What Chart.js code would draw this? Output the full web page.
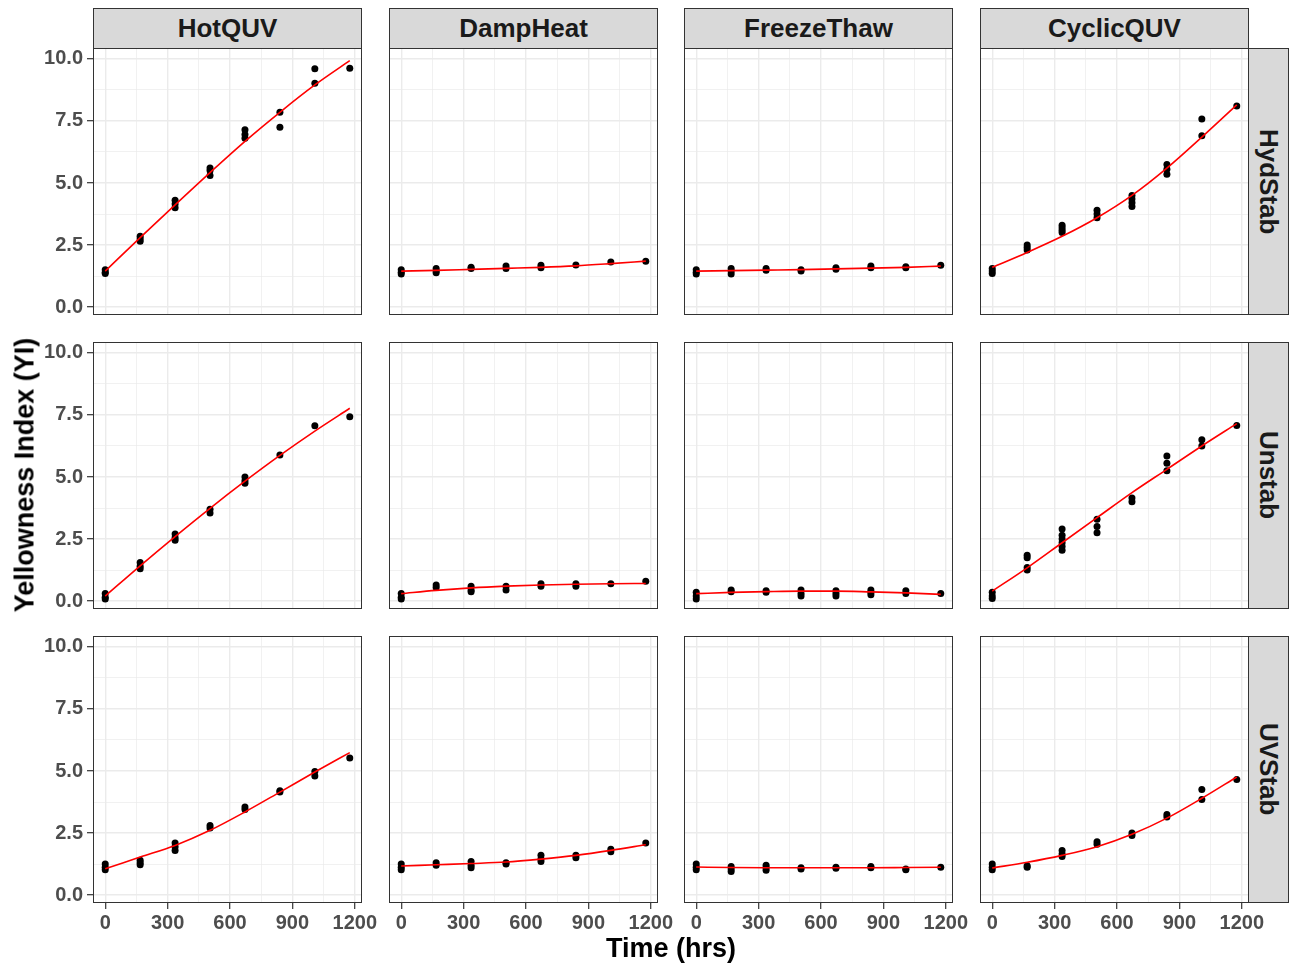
<!DOCTYPE html>
<html>
<head>
<meta charset="utf-8">
<script src="https://cdn.jsdelivr.net/npm/chart.js@4.4.1/dist/chart.umd.min.js"></script>
<style>
  body { margin: 0; background: #fff; }
  #wrap { position: relative; width: 1293px; height: 964px; overflow: hidden; font-family: 'Liberation Sans', Arial, sans-serif; }
  canvas { position: absolute; }
  .strip { position: absolute; box-sizing: border-box; background: #D9D9D9; border: 1px solid #333;
           display: flex; align-items: center; justify-content: center;
           font-weight: bold; font-size: 26px; color: #1A1A1A; }
  .strip.side { writing-mode: vertical-rl; }
  .title { position: absolute; font-weight: bold; font-size: 27px; color: #000; white-space: nowrap; }
</style>
</head>
<body>
<div id="wrap"></div>
<script>
// time points (hrs)
const hours = [0, 168, 336, 504, 672, 840, 1008, 1176];
const tests = ['HotQUV', 'DampHeat', 'FreezeThaw', 'CyclicQUV'];
const stabs = ['HydStab', 'Unstab', 'UVStab'];
const xTickVals = [0, 150, 300, 450, 600, 750, 900, 1050, 1200];
const yTickVals = [0, 1.25, 2.5, 3.75, 5, 6.25, 7.5, 8.75, 10];

// HydStab: replicates per time point, then smooth fit
const hydHotQUV = [[1.5,1.4,1.35],[2.85,2.75,2.65],[4.3,4.15,4.0],[5.6,5.5,5.3],[7.15,6.95,6.8],[7.85,7.25],[9.6,9.02],[9.62]];
const hydHotQUVFit = [1.45,2.8,4.12,5.42,6.68,7.85,8.95,9.93];
const hydDampHeat = [[1.5,1.4,1.33],[1.55,1.45,1.38],[1.6,1.55],[1.65,1.55],[1.68,1.58],[1.7],[1.82],[1.85]];
const hydDampHeatFit = [1.45,1.48,1.52,1.56,1.6,1.66,1.75,1.85];
const hydFreezeThaw = [[1.5,1.4,1.33],[1.55,1.45,1.33],[1.55,1.48],[1.5,1.45],[1.58,1.52],[1.65,1.58],[1.62,1.58],[1.68]];
const hydFreezeThawFit = [1.45,1.47,1.49,1.51,1.54,1.57,1.6,1.65];
const hydCyclicQUV = [[1.55,1.45,1.35],[2.5,2.4,2.3],[3.3,3.2,3.1,3.0],[3.9,3.75,3.6],[4.5,4.35,4.2,4.05],[5.75,5.55,5.35],[7.58,6.9],[8.1]];
const hydCyclicQUVFit = [1.6,2.2,2.85,3.6,4.5,5.6,6.85,8.15];

// Unstab
const unHotQUV = [[0.3,0.15,0.08],[1.55,1.4,1.3],[2.7,2.55,2.45],[3.7,3.55],[5.0,4.85,4.75],[5.89],[7.06],[7.43]];
const unHotQUVFit = [0.2,1.42,2.6,3.74,4.83,5.87,6.85,7.77];
const unDampHeat = [[0.3,0.15,0.08],[0.65,0.55],[0.6,0.45,0.38],[0.6,0.45],[0.7,0.6],[0.7,0.6],[0.7],[0.8]];
const unDampHeatFit = [0.3,0.43,0.53,0.6,0.65,0.68,0.7,0.71];
const unFreezeThaw = [[0.35,0.2,0.08],[0.45,0.38],[0.42,0.35],[0.45,0.3,0.2],[0.42,0.3,0.2],[0.45,0.35,0.25],[0.42,0.3],[0.3]];
const unFreezeThawFit = [0.3,0.35,0.38,0.4,0.4,0.37,0.33,0.27];
const unCyclicQUV = [[0.35,0.2,0.1],[1.85,1.75,1.35,1.25],[2.9,2.65,2.5,2.35,2.2,2.05],[3.3,3.0,2.75],[4.15,4.0],[5.85,5.55,5.25],[6.5,6.25],[7.08]];
const unCyclicQUVFit = [0.4,1.34,2.35,3.36,4.37,5.31,6.25,7.15];

// UVStab
const uvHotQUV = [[1.25,1.12,1.02],[1.4,1.3,1.22],[2.1,1.95,1.8],[2.8,2.7],[3.55,3.45],[4.2,4.15],[4.98,4.8],[5.52]];
const uvHotQUVFit = [1.06,1.53,2.0,2.61,3.35,4.15,4.96,5.74];
const uvDampHeat = [[1.25,1.12,1.02],[1.3,1.2],[1.35,1.2,1.1],[1.3,1.25],[1.6,1.45,1.35],[1.6,1.5],[1.85,1.75],[2.1]];
const uvDampHeatFit = [1.17,1.22,1.27,1.33,1.45,1.6,1.8,2.03];
const uvFreezeThaw = [[1.25,1.12,1.02],[1.15,1.05,0.95],[1.2,1.1,1.0],[1.1,1.05],[1.12,1.08],[1.15,1.1],[1.05,1.02],[1.12]];
const uvFreezeThawFit = [1.13,1.11,1.1,1.1,1.1,1.1,1.11,1.12];
const uvCyclicQUV = [[1.25,1.12,1.02],[1.18,1.12],[1.8,1.65,1.55],[2.15,2.05],[2.5,2.4],[3.25,3.15],[4.25,3.85],[4.66]];
const uvCyclicQUVFit = [1.09,1.32,1.6,1.95,2.45,3.1,3.9,4.76];

const panels = [
  [[hydHotQUV, hydHotQUVFit], [hydDampHeat, hydDampHeatFit], [hydFreezeThaw, hydFreezeThawFit], [hydCyclicQUV, hydCyclicQUVFit]],
  [[unHotQUV, unHotQUVFit], [unDampHeat, unDampHeatFit], [unFreezeThaw, unFreezeThawFit], [unCyclicQUV, unCyclicQUVFit]],
  [[uvHotQUV, uvHotQUVFit], [uvDampHeat, uvDampHeatFit], [uvFreezeThaw, uvFreezeThawFit], [uvCyclicQUV, uvCyclicQUVFit]]
];

// layout
const panelLeft = [93, 389, 684, 980];
const panelTop = [48, 342, 636];
const panelW = 269, panelH = 267;
const padL = 60, padR = 30, padB = 40;

Chart.defaults.font.family = "'Liberation Sans', Arial, sans-serif";

const frame = {
  id: 'frame',
  afterDatasetsDraw(chart) {
    const a = chart.chartArea, ctx = chart.ctx;
    ctx.save();
    ctx.strokeStyle = '#333333';
    ctx.lineWidth = 1;
    ctx.strokeRect(a.left + 0.5, a.top + 0.5, a.right - a.left - 1, a.bottom - a.top - 1);
    ctx.restore();
  }
};

const wrap = document.getElementById('wrap');

function addDiv(cls, text, css) {
  const d = document.createElement('div');
  d.className = cls;
  d.textContent = text;
  Object.assign(d.style, css);
  wrap.appendChild(d);
}

tests.forEach((t, c) => addDiv('strip', t, { left: panelLeft[c] + 'px', top: '8px', width: panelW + 'px', height: '41px' }));
stabs.forEach((s, r) => addDiv('strip side', s, { left: '1248px', top: panelTop[r] + 'px', width: '41px', height: panelH + 'px' }));

function makePanel(r, c) {
  const [reps, fit] = panels[r][c];
  const showX = r === 2, showY = c === 0;
  const cv = document.createElement('canvas');
  const w = padL + panelW + padR, h = panelH + padB;
  cv.width = w; cv.height = h;
  cv.style.width = w + 'px'; cv.style.height = h + 'px';
  cv.style.left = (panelLeft[c] - padL) + 'px';
  cv.style.top = panelTop[r] + 'px';
  wrap.appendChild(cv);

  const pts = hours.flatMap((hr, i) => reps[i].map(v => ({ x: hr, y: v })));
  const line = hours.map((hr, i) => ({ x: hr, y: fit[i] }));
  const tickFont = { size: 20, weight: 'bold' };

  new Chart(cv.getContext('2d'), {
    type: 'scatter',
    data: {
      datasets: [
        { data: line, showLine: true, borderColor: '#FF0000', borderWidth: 1.6, pointRadius: 0,
          cubicInterpolationMode: 'monotone', fill: false, order: 0 },
        { data: pts, backgroundColor: '#000', borderColor: '#000', borderWidth: 0, pointRadius: 3.5, order: 1 }
      ]
    },
    options: {
      responsive: false,
      animation: false,
      devicePixelRatio: 1,
      layout: { padding: { right: padR }, autoPadding: false },
      plugins: { legend: { display: false }, tooltip: { enabled: false } },
      scales: {
        x: {
          type: 'linear', min: -58.8, max: 1234.8,
          afterBuildTicks: s => { s.ticks = xTickVals.map(v => ({ value: v })); },
          afterFit: s => { s.height = padB; s.paddingLeft = 0; s.paddingRight = 0; },
          border: { display: false },
          grid: {
            color: '#EBEBEB',
            lineWidth: ctx => (ctx.tick && ctx.tick.value % 300 === 0) ? 1.4 : 0.7,
            drawTicks: showX, tickLength: 6, tickWidth: 1.2,
            tickColor: ctx => (ctx.tick && ctx.tick.value % 300 === 0) ? '#333333' : 'rgba(0,0,0,0)'
          },
          ticks: {
            display: showX, autoSkip: false, maxRotation: 0, minRotation: 0, padding: 2,
            color: '#4D4D4D', font: tickFont,
            callback: v => v % 300 === 0 ? String(v) : ''
          }
        },
        y: {
          type: 'linear', min: -0.32, max: 10.44,
          afterBuildTicks: s => { s.ticks = yTickVals.map(v => ({ value: v })); },
          afterFit: s => { s.width = padL; s.paddingTop = 0; s.paddingBottom = 0; },
          border: { display: false },
          grid: {
            color: '#EBEBEB',
            lineWidth: ctx => (ctx.tick && ctx.tick.value % 2.5 === 0) ? 1.4 : 0.7,
            drawTicks: showY, tickLength: 6, tickWidth: 1.2,
            tickColor: ctx => (ctx.tick && ctx.tick.value % 2.5 === 0) ? '#333333' : 'rgba(0,0,0,0)'
          },
          ticks: {
            display: showY, autoSkip: false, padding: 4,
            color: '#4D4D4D', font: tickFont,
            callback: v => v % 2.5 === 0 ? v.toFixed(1) : ''
          }
        }
      }
    },
    plugins: [frame]
  });
}

for (let r = 0; r < 3; r++) for (let c = 0; c < 4; c++) makePanel(r, c);

addDiv('title', 'Time (hrs)', { left: '671px', top: '948px', transform: 'translate(-50%, -50%)' });
addDiv('title', 'Yellowness Index (YI)', { left: '25px', top: '475px', transform: 'translate(-50%, -50%) rotate(-90deg)' });
</script>
</body>
</html>
